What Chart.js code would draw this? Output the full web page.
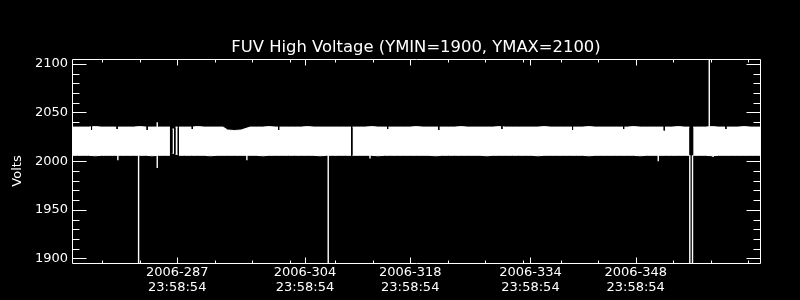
<!DOCTYPE html>
<html><head><meta charset="utf-8">
<script src="https://cdn.jsdelivr.net/npm/chart.js@4/dist/chart.umd.min.js"></script>
<style>html,body{margin:0;padding:0;background:#000;}#wrap{width:800px;height:300px;}</style>
</head><body><div id="wrap"><canvas id="c" width="800" height="300"></canvas></div>
<script>
const titleText = 'FUV High Voltage (YMIN=1900, YMAX=2100)';
const yAxisTitle = 'Volts';
const xMajorDays = [287, 304, 318, 334, 348];
const xTickLabels = [['2006-287','23:58:54'],['2006-304','23:58:54'],['2006-318','23:58:54'],['2006-334','23:58:54'],['2006-348','23:58:54']];
const xMinorDays = [277, 282, 292, 297, 302, 308, 313, 323, 328, 333, 338, 343, 353, 358, 363];
const yMajorTicks = [1900, 1950, 2000, 2050, 2100];
const yMinorTicks = [1910, 1920, 1930, 1940, 1960, 1970, 1980, 1990, 2010, 2020, 2030, 2040, 2060, 2070, 2080, 2090];

// envelope of the dense voltage trace (day of year 2006)
const bandDays = [
  273.0, 273.7, 274.5, 275.2, 276.1, 276.9, 277.8, 278.6, 279.5, 280.3, 281.2, 282.0, 282.9, 283.6, 284.5, 285.3, 286.03,
  286.2,
  286.37, 286.57,
  286.67,
  286.77, 287.06,
  287.14,
  287.22, 288.0, 288.9, 289.7, 290.6, 291.4, 292.3, 293.1, 293.7, 294.6, 295.5, 296.7, 297.5, 298.4, 299.2, 300.1, 300.9, 301.8, 302.6, 303.5, 304.3, 305.2, 306.0, 306.9, 307.7, 308.6, 309.4, 310.13,
  310.22,
  310.32, 311.2, 312.0, 312.9, 313.7, 314.6, 315.4, 316.3, 317.1, 318.0, 318.8, 319.7, 320.5, 321.4, 322.2, 323.1, 323.9, 324.8, 325.6, 326.5, 327.3, 328.2, 329.0, 329.9, 330.7, 331.6, 332.4, 333.3, 334.1, 335.0, 335.8, 336.7, 337.5, 338.4, 339.2, 340.1, 340.9, 341.8, 342.6, 343.5, 344.3, 345.2, 346.0, 346.9, 347.7, 348.6, 349.4, 350.3, 351.1, 352.0, 352.8, 353.7, 354.5, 355.15,
  355.4,
  355.65, 356.5, 357.3, 358.2, 359.0, 359.9, 360.7, 361.6, 362.4, 363.3, 364.1, 364.6
];
const bandHigh = [
  2035, 2035, 2035, 2035, 2035.5, 2035, 2035, 2035, 2035, 2035, 2035, 2035.5, 2035, 2035, 2035, 2035, 2035,
  null,
  2033, 2033,
  null,
  2035, 2035,
  null,
  2035, 2035, 2035, 2035.5, 2035, 2035, 2035, 2035, 2032, 2031.5, 2032, 2035, 2035, 2035, 2035.5, 2035, 2035, 2035, 2035, 2035, 2035.5, 2035, 2035, 2035, 2035, 2035, 2035, 2035,
  null,
  2035, 2035, 2035, 2035.5, 2035, 2035, 2035, 2035, 2035, 2035, 2035.5, 2035, 2035, 2035, 2035, 2035, 2035, 2035.5, 2035, 2035, 2035, 2035, 2035, 2035.5, 2035, 2035, 2035, 2035, 2035, 2035, 2035.5, 2035, 2035, 2035, 2035, 2035, 2035, 2035.5, 2035, 2035, 2035, 2035, 2035, 2035, 2035.5, 2035, 2035, 2035, 2035, 2035, 2035, 2035.5, 2035, 2035,
  null,
  2035, 2035, 2035, 2035.5, 2035, 2035, 2035, 2035, 2035.5, 2035, 2035, 2035
];
const bandLow = [
  2006, 2006, 2006, 2006, 2005.5, 2006, 2006, 2006, 2006, 2006, 2006, 2006, 2006, 2005.5, 2006, 2006, 2006,
  null,
  2008, 2008,
  null,
  2007, 2007,
  null,
  2006, 2006, 2006, 2006, 2006, 2005.5, 2006, 2006, 2006, 2006, 2006, 2006, 2006, 2005.5, 2006, 2006, 2006, 2006, 2006, 2006, 2006, 2006, 2005.5, 2006, 2006, 2006, 2006, 2006,
  null,
  2006, 2006, 2006, 2006, 2005.5, 2006, 2006, 2006, 2006, 2006, 2006, 2006, 2006, 2005.5, 2006, 2006, 2006, 2006, 2006, 2006, 2006, 2005.5, 2006, 2006, 2006, 2006, 2006, 2006, 2006, 2005.5, 2006, 2006, 2006, 2006, 2006, 2006, 2006, 2005.5, 2006, 2006, 2006, 2006, 2006, 2006, 2006, 2005.5, 2006, 2006, 2006, 2006, 2006, 2006, 2006, 2006,
  null,
  2006, 2006, 2006, 2005.5, 2006, 2006, 2006, 2006, 2006, 2006, 2006, 2006
];

// isolated excursions
const dropDays = [281.86, 307.09, 355.20, 355.56];
const dropValues = [1880, 1880, 1880, 1880];
const spikeUpDays = [284.34, 357.79];
const spikeUpValues = [2040, 2115];
const tickDownDays = [279.1, 284.34, 296.27, 312.65, 351.0, 358.3];
const tickDownValues = [2000.8, 1993, 2000.8, 2002.6, 2000, 2004.3];
const notchDays = [275.6, 279.0, 283.0, 289.0, 300.5, 315.0, 321.8, 330.2, 339.6, 346.4, 351.8, 360.0];
const notchValues = [2032, 2033, 2032, 2033, 2032, 2033, 2032, 2033, 2032, 2033, 2031.5, 2033];

const FONT = 'DejaVu Sans';
const highPts = bandDays.map((d, i) => ({x: d, y: bandHigh[i]}));
const lowPts = bandDays.map((d, i) => ({x: d, y: bandLow[i]}));
const spikePts = [];
dropDays.forEach((d, i) => { spikePts.push({x: d, y: 2006}, {x: d, y: dropValues[i]}, {x: d + 0.01, y: null}); });
spikeUpDays.forEach((d, i) => { spikePts.push({x: d, y: 2034}, {x: d, y: spikeUpValues[i]}, {x: d + 0.01, y: null}); });
tickDownDays.forEach((d, i) => { spikePts.push({x: d, y: 2007}, {x: d, y: tickDownValues[i]}, {x: d + 0.01, y: null}); });
const notchPts = [];
notchDays.forEach((d, i) => { notchPts.push({x: d, y: 2037.5}, {x: d, y: notchValues[i]}, {x: d + 0.01, y: null}); });

const framePlugin = {
  id: 'frame',
  beforeDraw(chart) {
    const ctx = chart.ctx;
    ctx.save(); ctx.fillStyle = '#000'; ctx.fillRect(0, 0, chart.width, chart.height); ctx.restore();
  },
  afterDraw(chart) {
    const ctx = chart.ctx, a = chart.chartArea, xs = chart.scales.x, ys = chart.scales.y;
    const L = Math.round(a.left) + 0.5, R = Math.round(a.right) + 0.5, T = Math.round(a.top) + 0.5, B = Math.round(a.bottom) + 0.5;
    ctx.save();
    ctx.strokeStyle = '#fff'; ctx.lineWidth = 1;
    ctx.beginPath();
    ctx.rect(L, T, R - L, B - T);
    const yt = (v, len) => { const p = Math.round(ys.getPixelForValue(v)) + 0.5; ctx.moveTo(L, p); ctx.lineTo(L + len, p); ctx.moveTo(R, p); ctx.lineTo(R - len, p); };
    yMajorTicks.forEach(v => yt(v, 14));
    yMinorTicks.forEach(v => yt(v, 7));
    const xt = (v, len) => { const p = Math.round(xs.getPixelForValue(v)) + 0.5; ctx.moveTo(p, B); ctx.lineTo(p, B - len); ctx.moveTo(p, T); ctx.lineTo(p, T + len); };
    xMajorDays.forEach(v => xt(v, 6));
    xMinorDays.forEach(v => xt(v, 3));
    ctx.stroke();
    // y-axis title, rotated
    ctx.fillStyle = '#fff';
    ctx.font = '13px "' + FONT + '"';
    ctx.textAlign = 'center'; ctx.textBaseline = 'middle';
    ctx.translate(18, 171);
    ctx.rotate(-Math.PI / 2);
    ctx.fillText(yAxisTitle, 0, 0);
    ctx.restore();
  }
};

new Chart(document.getElementById('c'), {
  type: 'line',
  data: {
    datasets: [
      {data: highPts, borderColor: '#fff', backgroundColor: '#fff', borderWidth: 1, pointRadius: 0, fill: '+1', spanGaps: false, order: 3},
      {data: lowPts, borderColor: '#fff', backgroundColor: '#fff', borderWidth: 1, pointRadius: 0, fill: false, spanGaps: false, order: 3},
      {data: spikePts, borderColor: '#fff', borderWidth: 1.4, pointRadius: 0, fill: false, spanGaps: false, order: 2},
      {data: notchPts, borderColor: '#000', borderWidth: 1, pointRadius: 0, fill: false, spanGaps: false, order: 1}
    ]
  },
  options: {
    responsive: false, animation: false, devicePixelRatio: 1,
    events: [],
    layout: {padding: {left: 0, right: 40, top: 0, bottom: 0}},
    plugins: {
      legend: {display: false}, tooltip: {enabled: false},
      title: {display: true, text: titleText, color: '#fff', fullSize: false,
        font: {family: FONT, size: 16.4, weight: 'normal'}, padding: {top: 37.6, bottom: 1.7}}
    },
    scales: {
      x: {
        type: 'linear', position: 'bottom', min: 273.0, max: 364.54,
        grid: {display: false, drawTicks: false, tickLength: 0}, border: {display: false},
        ticks: {color: '#fff', font: {family: FONT, size: 13, lineHeight: 15 / 13}, padding: 2, maxRotation: 0, autoSkip: false,
          callback: (v) => { const i = xMajorDays.indexOf(v); return i >= 0 ? xTickLabels[i] : ''; }},
        afterBuildTicks: (s) => { s.ticks = xMajorDays.map(v => ({value: v})); },
        afterFit: (s) => { s.height = 37; }
      },
      y: {
        type: 'linear', position: 'left', min: 1895.3, max: 2105,
        grid: {display: false, drawTicks: false, tickLength: 0}, border: {display: false},
        ticks: {color: '#fff', font: {family: FONT, size: 13}, padding: 4, callback: (v) => String(v)},
        afterBuildTicks: (s) => { s.ticks = yMajorTicks.map(v => ({value: v})); },
        afterFit: (s) => { s.width = 72; }
      }
    }
  },
  plugins: [framePlugin]
});
</script>
</body></html>
